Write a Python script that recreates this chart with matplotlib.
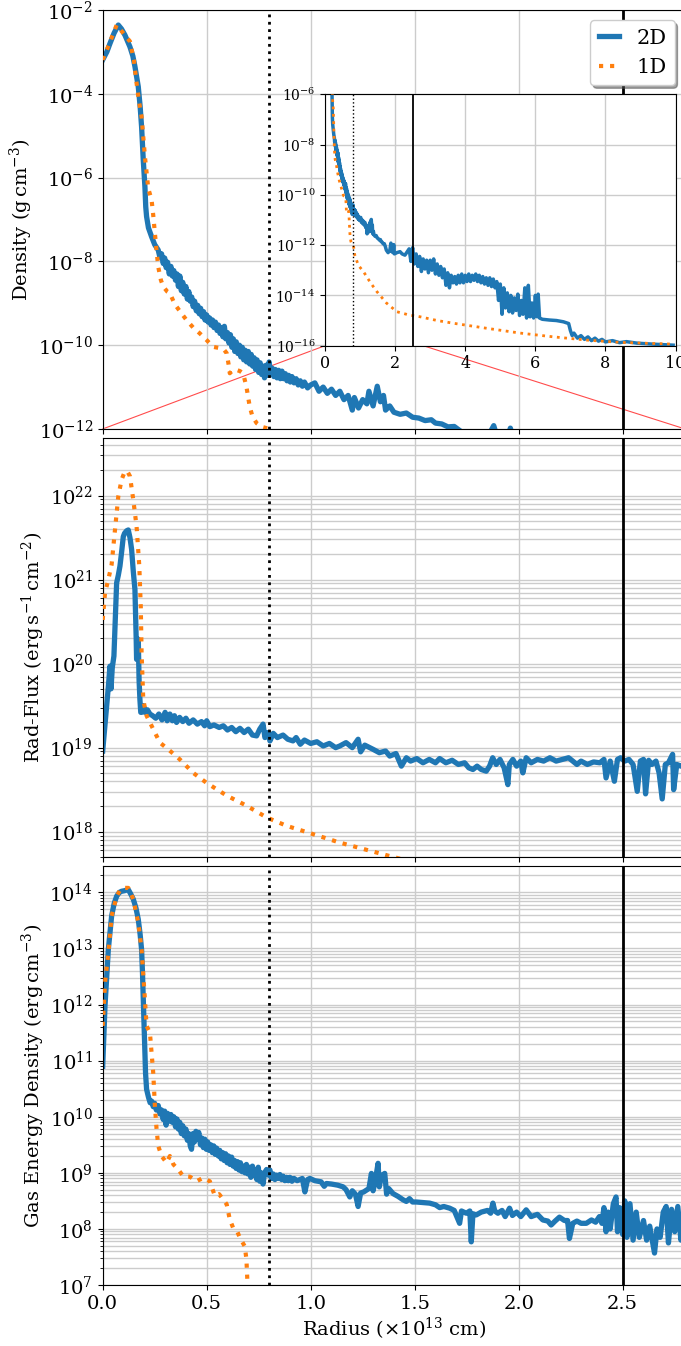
import numpy as np
import matplotlib
matplotlib.use("Agg")
import matplotlib.pyplot as plt
from matplotlib.lines import Line2D
from matplotlib.patches import ConnectionPatch
from matplotlib.ticker import LogLocator, NullLocator, FixedLocator

plt.rcParams["font.family"] = ["DejaVu Serif"]
plt.rcParams["mathtext.fontset"] = "dejavuserif"

# ---------------------------------------------------------------------------
# Radial profiles: (radius [1e13 cm], log10(value))
# ---------------------------------------------------------------------------
density_2d = [
    (0.000, -3.19), (0.020, -3.00), (0.035, -2.80), (0.055, -2.55), (0.075, -2.36),
    (0.090, -2.45), (0.107, -2.60), (0.131, -2.88), (0.145, -3.10), (0.155, -3.35),
    (0.171, -3.83), (0.180, -4.30), (0.187, -4.79), (0.195, -5.58), (0.203, -6.22),
    (0.207, -6.70), (0.211, -6.93), (0.220, -7.20), (0.235, -7.41), (0.250, -7.60),
    (0.267, -7.73), (0.275, -7.90), (0.283, -7.82), (0.291, -8.05), (0.298, -7.92),
    (0.305, -8.15), (0.312, -8.02), (0.320, -8.30), (0.328, -8.12), (0.335, -8.35),
    (0.342, -8.22), (0.350, -8.45), (0.357, -8.30), (0.364, -8.60), (0.371, -8.35),
    (0.378, -8.70), (0.385, -8.50), (0.392, -8.78), (0.400, -8.60), (0.407, -8.90),
    (0.414, -8.72), (0.421, -8.95), (0.428, -8.85), (0.435, -9.08), (0.442, -8.95),
    (0.450, -9.18), (0.457, -9.05), (0.464, -9.25), (0.471, -9.12), (0.478, -9.32),
    (0.485, -9.20), (0.492, -9.40), (0.500, -9.28), (0.507, -9.45), (0.514, -9.35),
    (0.521, -9.52), (0.528, -9.40), (0.535, -9.58), (0.542, -9.45), (0.550, -9.65),
    (0.557, -9.52), (0.564, -9.72), (0.571, -9.58), (0.578, -9.80), (0.585, -9.55),
    (0.592, -9.85), (0.600, -9.70), (0.607, -9.95), (0.614, -9.75), (0.621, -10.05),
    (0.628, -9.85), (0.635, -10.15), (0.642, -9.92), (0.650, -10.20), (0.657, -10.00),
    (0.664, -10.28), (0.671, -10.05), (0.678, -10.35), (0.685, -10.12), (0.692, -10.40),
    (0.700, -10.15), (0.707, -10.45), (0.714, -10.22), (0.721, -10.50), (0.728, -10.30),
    (0.735, -10.58), (0.742, -10.35), (0.750, -10.65), (0.757, -10.42), (0.764, -10.70),
    (0.771, -10.50), (0.778, -10.78), (0.785, -10.48), (0.792, -10.72), (0.800, -10.40),
    (0.808, -10.70), (0.815, -10.55), (0.823, -10.75), (0.830, -10.58), (0.838, -10.78),
    (0.846, -10.60), (0.854, -10.80), (0.862, -10.62), (0.870, -10.80), (0.878, -10.68),
    (0.886, -10.85), (0.894, -10.72), (0.902, -10.88), (0.910, -10.75), (0.920, -10.90),
    (0.930, -10.80), (0.940, -10.95), (0.950, -10.85), (0.960, -10.98), (0.970, -10.88),
    (0.985, -11.02), (1.000, -10.95), (1.020, -10.90), (1.040, -11.10), (1.060, -11.00),
    (1.080, -11.15), (1.100, -11.05), (1.120, -11.20), (1.140, -11.10), (1.160, -11.30),
    (1.180, -11.20), (1.200, -11.55), (1.210, -11.25), (1.230, -11.50), (1.250, -11.30),
    (1.270, -11.40), (1.280, -11.10), (1.300, -11.45), (1.320, -10.98), (1.335, -11.35),
    (1.350, -11.20), (1.360, -11.55), (1.380, -11.45), (1.400, -11.60), (1.430, -11.65),
    (1.460, -11.62), (1.490, -11.72), (1.520, -11.74), (1.550, -11.80), (1.580, -11.78),
    (1.600, -11.86), (1.630, -11.88), (1.660, -11.95), (1.690, -11.94), (1.720, -12.05),
    (1.750, -12.20), (1.800, -12.30), (1.850, -12.20), (1.880, -11.92), (1.900, -12.25),
    (1.940, -12.30), (1.960, -11.98), (1.980, -12.35), (2.050, -12.30), (2.140, -12.26),
    (2.200, -12.35), (2.280, -12.40), (2.350, -12.25),
    (2.40, -12.15), (2.45, -12.65), (2.50, -12.10), (2.55, -12.75), (2.60, -12.35),
    (2.65, -12.85), (2.70, -12.45), (2.75, -13.05), (2.80, -12.55), (2.85, -12.95),
    (2.90, -12.60), (2.95, -13.10), (3.00, -12.60), (3.05, -13.00), (3.10, -12.55),
    (3.15, -13.15), (3.20, -12.75), (3.25, -13.20), (3.30, -12.85), (3.35, -13.30),
    (3.40, -12.95), (3.45, -13.60), (3.50, -13.10), (3.55, -13.70), (3.60, -13.20),
    (3.65, -13.50), (3.70, -13.25), (3.75, -13.55), (3.80, -13.20), (3.85, -13.50),
    (3.90, -13.15), (3.95, -13.50), (4.00, -13.20), (4.05, -13.45), (4.10, -13.15),
    (4.15, -13.45), (4.20, -13.20), (4.25, -13.40), (4.30, -13.15), (4.35, -13.45),
    (4.40, -13.20), (4.45, -13.50), (4.50, -13.25), (4.55, -13.55), (4.60, -13.30),
    (4.65, -13.60), (4.70, -13.30), (4.75, -13.65), (4.80, -13.35), (4.85, -13.70),
    (4.90, -13.45), (4.95, -14.20), (5.00, -13.55), (5.05, -14.75), (5.10, -13.70),
    (5.15, -14.50), (5.20, -13.90), (5.25, -14.65), (5.30, -14.00), (5.35, -14.70),
    (5.40, -14.10), (5.45, -14.60), (5.50, -13.95), (5.55, -14.80), (5.60, -14.20),
    (5.65, -14.75), (5.70, -13.70), (5.75, -14.90), (5.80, -13.60), (5.85, -14.85),
    (5.90, -14.30), (5.95, -14.90), (6.00, -14.00), (6.05, -14.85), (6.08, -13.95),
    (6.12, -14.90), (6.20, -14.95), (6.40, -14.98), (6.60, -15.00), (6.80, -15.05),
    (6.95, -15.12), (7.00, -15.40), (7.05, -15.60), (7.10, -15.50), (7.20, -15.70),
    (7.30, -15.60), (7.40, -15.75), (7.50, -15.65), (7.60, -15.80), (7.70, -15.70),
    (7.80, -15.82), (7.90, -15.75), (8.00, -15.85), (8.20, -15.80), (8.40, -15.88),
    (8.60, -15.84), (8.90, -15.90), (9.36, -15.94), (9.93, -15.98),
]

density_1d = [
    (0.000, -3.19), (0.020, -2.95), (0.040, -2.70), (0.067, -2.36), (0.090, -2.50),
    (0.131, -2.75), (0.150, -3.20), (0.163, -3.75), (0.175, -4.20), (0.187, -4.55),
    (0.203, -5.50), (0.219, -6.26), (0.235, -6.53), (0.243, -6.90), (0.251, -7.33),
    (0.259, -7.75), (0.267, -8.13), (0.280, -8.45), (0.291, -8.60), (0.310, -8.72),
    (0.323, -8.76), (0.340, -8.95), (0.355, -9.08), (0.380, -9.25), (0.403, -9.40),
    (0.435, -9.58), (0.467, -9.72), (0.500, -9.88), (0.531, -10.04), (0.563, -10.07),
    (0.585, -10.12), (0.596, -10.19), (0.605, -10.45), (0.611, -10.67), (0.625, -10.60),
    (0.643, -10.59), (0.660, -10.62), (0.675, -10.67), (0.691, -10.99), (0.707, -11.47),
    (0.720, -11.70), (0.740, -11.86), (0.765, -11.95), (0.788, -11.98), (0.810, -12.00),
    (0.850, -12.40), (0.950, -12.80), (1.100, -13.06), (1.300, -13.50), (1.480, -13.85),
    (1.750, -14.30), (2.050, -14.65), (2.400, -14.78), (2.710, -14.85), (3.200, -15.00),
    (3.670, -15.11), (4.620, -15.31), (5.570, -15.50), (6.520, -15.65), (7.480, -15.78),
    (8.430, -15.87), (9.950, -15.94),
]

rad_flux_2d = [
    (0.000, 18.96), (0.012, 19.30), (0.019, 19.49), (0.028, 19.75), (0.035, 19.97),
    (0.040, 19.70), (0.046, 19.95), (0.054, 20.09), (0.060, 20.50), (0.067, 20.96),
    (0.075, 21.05), (0.083, 21.16), (0.092, 21.35), (0.099, 21.51), (0.105, 21.55),
    (0.115, 21.58), (0.123, 21.59), (0.131, 21.50), (0.139, 21.36), (0.147, 21.10),
    (0.155, 20.88), (0.161, 20.30), (0.163, 20.05), (0.167, 20.10), (0.171, 20.29),
    (0.175, 19.80), (0.179, 19.57), (0.183, 19.42), (0.187, 19.42), (0.195, 19.50),
    (0.203, 19.42), (0.215, 19.45), (0.227, 19.40), (0.240, 19.38), (0.255, 19.35),
    (0.270, 19.40), (0.285, 19.33), (0.300, 19.42), (0.310, 19.32), (0.323, 19.40),
    (0.335, 19.32), (0.345, 19.38), (0.355, 19.30), (0.370, 19.36), (0.385, 19.31),
    (0.400, 19.35), (0.415, 19.29), (0.435, 19.33), (0.455, 19.28), (0.475, 19.31),
    (0.490, 19.26), (0.500, 19.32), (0.515, 19.25), (0.535, 19.27), (0.560, 19.24),
    (0.580, 19.26), (0.600, 19.21), (0.620, 19.24), (0.640, 19.19), (0.660, 19.23),
    (0.680, 19.18), (0.700, 19.22), (0.720, 19.15), (0.740, 19.14), (0.755, 19.22),
    (0.771, 19.28), (0.780, 19.12), (0.795, 19.18), (0.804, 19.08), (0.820, 19.17),
    (0.840, 19.12), (0.867, 19.15), (0.890, 19.10), (0.915, 19.08), (0.930, 19.12),
    (0.950, 19.04), (0.970, 19.09), (1.000, 19.05), (1.030, 19.07), (1.060, 19.02),
    (1.090, 19.05), (1.120, 19.00), (1.140, 19.02), (1.170, 19.06), (1.200, 19.00),
    (1.228, 19.10), (1.240, 18.95), (1.260, 19.03), (1.300, 18.98), (1.330, 18.94),
    (1.360, 18.96), (1.380, 18.90), (1.410, 18.93), (1.436, 18.78), (1.460, 18.88),
    (1.480, 18.84), (1.510, 18.87), (1.540, 18.82), (1.570, 18.86), (1.600, 18.82),
    (1.620, 18.87), (1.650, 18.82), (1.680, 18.85), (1.710, 18.80), (1.740, 18.82),
    (1.760, 18.76), (1.780, 18.74), (1.800, 18.78), (1.820, 18.74), (1.844, 18.72),
    (1.860, 18.78), (1.875, 18.88), (1.892, 18.80), (1.910, 18.86), (1.930, 18.76),
    (1.948, 18.56), (1.955, 18.80), (1.972, 18.86), (1.990, 18.78), (2.010, 18.84),
    (2.020, 18.70), (2.036, 18.88), (2.060, 18.82), (2.090, 18.86), (2.120, 18.84),
    (2.150, 18.88), (2.180, 18.84), (2.210, 18.86), (2.240, 18.88), (2.260, 18.84),
    (2.280, 18.80), (2.300, 18.84), (2.330, 18.80), (2.360, 18.83), (2.390, 18.82),
    (2.410, 18.86), (2.420, 18.64), (2.440, 18.84), (2.460, 18.60), (2.475, 18.86),
    (2.490, 18.88), (2.510, 18.84), (2.530, 18.86), (2.550, 18.80), (2.570, 18.48),
    (2.585, 18.84), (2.600, 18.86), (2.610, 18.45), (2.625, 18.85), (2.640, 18.80),
    (2.660, 18.84), (2.675, 18.70), (2.690, 18.39), (2.705, 18.80), (2.720, 18.82),
    (2.740, 18.92), (2.745, 18.50), (2.760, 18.80), (2.780, 18.78), (2.800, 18.80),
]

rad_flux_1d = [
    (0.000, 20.52), (0.011, 20.84), (0.027, 21.00), (0.043, 21.18), (0.059, 21.59),
    (0.075, 21.99), (0.091, 22.19), (0.107, 22.29), (0.120, 22.28), (0.131, 22.23),
    (0.147, 21.95), (0.163, 21.63), (0.176, 21.16), (0.183, 20.68), (0.187, 20.13),
    (0.195, 19.57), (0.211, 19.38), (0.243, 19.22), (0.275, 19.06), (0.315, 18.98),
    (0.371, 18.86), (0.435, 18.70), (0.500, 18.58), (0.596, 18.43), (0.691, 18.31),
    (0.788, 18.17), (0.884, 18.07), (1.000, 17.98), (1.140, 17.87), (1.380, 17.71),
    (1.600, 17.57), (2.000, 17.38), (2.400, 17.22), (2.800, 17.08),
]

gas_energy_2d = [
    (0.000, 10.90), (0.011, 11.97), (0.027, 12.98), (0.043, 13.58), (0.055, 13.80),
    (0.067, 13.93), (0.080, 14.00), (0.091, 14.02), (0.105, 14.03), (0.123, 14.05),
    (0.135, 13.97), (0.147, 13.88), (0.160, 13.72), (0.171, 13.52), (0.180, 13.25),
    (0.187, 12.98), (0.191, 12.60), (0.195, 12.09), (0.198, 11.70), (0.200, 11.50),
    (0.206, 10.78), (0.211, 10.49), (0.220, 10.35), (0.228, 10.25), (0.235, 10.28),
    (0.243, 10.18), (0.250, 10.24), (0.258, 10.12), (0.267, 10.20), (0.275, 10.05),
    (0.283, 10.12), (0.291, 9.95), (0.298, 10.10), (0.305, 9.85), (0.312, 10.06),
    (0.320, 9.92), (0.328, 10.04), (0.335, 9.90), (0.342, 10.00), (0.350, 9.82),
    (0.357, 9.96), (0.364, 9.78), (0.371, 9.90), (0.378, 9.70), (0.385, 9.84),
    (0.392, 9.66), (0.400, 9.78), (0.407, 9.58), (0.414, 9.70), (0.421, 9.48),
    (0.427, 9.42), (0.434, 9.70), (0.441, 9.55), (0.448, 9.74), (0.455, 9.60),
    (0.462, 9.72), (0.470, 9.50), (0.477, 9.62), (0.484, 9.45), (0.491, 9.60),
    (0.498, 9.42), (0.505, 9.55), (0.512, 9.40), (0.520, 9.50), (0.527, 9.36),
    (0.534, 9.48), (0.541, 9.33), (0.548, 9.44), (0.556, 9.30), (0.563, 9.40),
    (0.570, 9.25), (0.577, 9.36), (0.584, 9.22), (0.591, 9.34), (0.598, 9.18),
    (0.605, 9.30), (0.612, 9.15), (0.620, 9.28), (0.627, 9.12), (0.634, 9.22),
    (0.641, 9.08), (0.648, 9.20), (0.655, 9.05), (0.662, 9.18), (0.670, 9.02),
    (0.677, 9.12), (0.684, 9.00), (0.691, 9.15), (0.698, 8.98), (0.705, 9.10),
    (0.712, 8.92), (0.720, 9.12), (0.727, 8.95), (0.734, 9.05), (0.741, 8.88),
    (0.748, 9.10), (0.755, 8.85), (0.762, 9.00), (0.771, 8.80), (0.778, 9.00),
    (0.788, 9.06), (0.796, 8.96), (0.804, 9.05), (0.812, 8.90), (0.820, 8.98),
    (0.828, 8.88), (0.836, 8.96), (0.844, 8.90), (0.852, 8.97), (0.860, 8.88),
    (0.868, 8.94), (0.876, 8.86), (0.884, 8.92), (0.892, 8.86), (0.900, 8.92),
    (0.910, 8.85), (0.920, 8.90), (0.935, 8.86), (0.948, 8.88), (0.960, 8.90),
    (0.972, 8.66), (0.985, 8.88), (0.996, 8.90), (1.020, 8.86), (1.050, 8.84),
    (1.065, 8.76), (1.076, 8.81), (1.100, 8.80), (1.130, 8.78), (1.156, 8.75),
    (1.170, 8.70), (1.188, 8.57), (1.200, 8.68), (1.215, 8.62), (1.228, 8.40),
    (1.240, 8.64), (1.255, 8.66), (1.268, 8.69), (1.280, 8.72), (1.292, 8.99),
    (1.300, 8.68), (1.310, 8.85), (1.324, 9.17), (1.330, 8.75), (1.340, 8.95),
    (1.356, 8.99), (1.365, 8.62), (1.375, 8.72), (1.396, 8.63), (1.420, 8.58),
    (1.444, 8.52), (1.460, 8.49), (1.475, 8.54), (1.490, 8.48), (1.508, 8.48),
    (1.540, 8.47), (1.572, 8.46), (1.600, 8.43), (1.620, 8.38), (1.640, 8.40),
    (1.668, 8.37), (1.690, 8.33), (1.716, 8.10), (1.725, 8.32), (1.748, 8.28),
    (1.765, 8.32), (1.772, 7.77), (1.780, 8.27), (1.796, 8.25), (1.820, 8.30),
    (1.850, 8.33), (1.865, 8.28), (1.876, 8.46), (1.885, 8.32), (1.900, 8.28),
    (1.920, 8.33), (1.935, 8.22), (1.956, 8.37), (1.970, 8.24), (1.990, 8.30),
    (2.010, 8.22), (2.036, 8.34), (2.060, 8.22), (2.090, 8.26), (2.116, 8.16),
    (2.140, 8.14), (2.156, 8.07), (2.175, 8.14), (2.196, 8.21), (2.220, 8.15),
    (2.235, 8.15), (2.244, 7.83), (2.260, 8.10), (2.280, 8.14), (2.300, 8.10),
    (2.325, 8.10), (2.350, 8.16), (2.370, 8.12), (2.388, 8.22), (2.400, 8.10),
    (2.410, 8.38), (2.420, 7.95), (2.430, 8.30), (2.440, 8.00), (2.455, 8.45),
    (2.468, 8.57), (2.475, 7.95), (2.485, 8.38), (2.500, 7.90), (2.510, 8.50),
    (2.520, 7.85), (2.535, 8.45), (2.550, 7.80), (2.565, 8.30), (2.580, 7.85),
    (2.600, 8.15), (2.615, 7.80), (2.630, 8.05), (2.653, 7.57), (2.665, 8.00),
    (2.680, 7.85), (2.695, 8.30), (2.709, 8.40), (2.720, 7.75), (2.735, 8.35),
    (2.750, 7.95), (2.765, 8.40), (2.780, 7.80), (2.800, 8.10),
]

gas_energy_1d = [
    (0.000, 11.62), (0.011, 12.39), (0.027, 12.92), (0.043, 13.58), (0.067, 13.93),
    (0.085, 14.05), (0.099, 14.08), (0.123, 14.08), (0.147, 13.88), (0.171, 13.46),
    (0.187, 12.98), (0.203, 12.09), (0.211, 11.62), (0.227, 11.50), (0.235, 11.14),
    (0.243, 10.78), (0.251, 10.19), (0.259, 9.78), (0.267, 9.48), (0.283, 9.30),
    (0.307, 9.18), (0.323, 9.30), (0.340, 9.15), (0.363, 9.06), (0.387, 8.94),
    (0.420, 8.93), (0.451, 8.85), (0.483, 8.91), (0.515, 8.85), (0.539, 8.59),
    (0.560, 8.62), (0.596, 8.44), (0.611, 8.17), (0.627, 8.02), (0.645, 7.97),
    (0.660, 7.84), (0.683, 7.69), (0.691, 7.46), (0.696, 7.04), (0.700, 6.50),
]

series_labels = ["2D", "1D"]
photosphere_r = 0.8      # dotted marker
outer_r = 2.5            # solid marker
x_ticks = [0.0, 0.5, 1.0, 1.5, 2.0, 2.5]


def unpack(pairs):
    r, lg = np.array(pairs).T
    return r, 10.0 ** lg


C2D, C1D = "#1f77b4", "#ff7f0e"
GRID = "#cccccc"

fig = plt.figure(figsize=(6.81, 13.46), dpi=100)
left, width = 0.1508, 0.8552
ax_rho = fig.add_axes([left, 0.6813, width, 0.3113])
ax_flux = fig.add_axes([left, 0.3633, width, 0.3111], sharex=ax_rho)
ax_gas = fig.add_axes([left, 0.0453, width, 0.3113], sharex=ax_rho)

panels = [
    (ax_rho, density_2d, density_1d),
    (ax_flux, rad_flux_2d, rad_flux_1d),
    (ax_gas, gas_energy_2d, gas_energy_1d),
]
for ax, s2d, s1d in panels:
    r, v = unpack(s2d)
    ax.plot(r, v, color=C2D, lw=3.8, solid_joinstyle="round", zorder=2)
    r, v = unpack(s1d)
    ax.plot(r, v, color=C1D, lw=3.0, ls=":", zorder=3)
    ax.axvline(photosphere_r, color="black", lw=2.0, ls=":", zorder=4)
    ax.axvline(outer_r, color="black", lw=2.0, zorder=4)
    ax.set_yscale("log")
    ax.tick_params(labelsize=14)

ax_rho.set_xlim(0.0, 2.8)
ax_rho.set_xticks(x_ticks)

ax_rho.set_ylim(1e-12, 1e-2)
ax_rho.yaxis.set_major_locator(FixedLocator([1e-12, 1e-10, 1e-8, 1e-6, 1e-4, 1e-2]))
ax_rho.yaxis.set_minor_locator(NullLocator())
ax_rho.grid(True, which="major", color=GRID, lw=1.0)

ax_flux.set_ylim(5e17, 4.8e22)
ax_gas.set_ylim(1e7, 2.95e14)
for ax in (ax_flux, ax_gas):
    ax.yaxis.set_major_locator(LogLocator(base=10, numticks=20))
    ax.yaxis.set_minor_locator(LogLocator(base=10, subs=np.arange(2, 10), numticks=200))
    ax.grid(True, which="both", color=GRID, lw=1.0)

ax_rho.tick_params(labelbottom=False)
ax_flux.tick_params(labelbottom=False)

ax_rho.set_ylabel(r"Density ($\mathrm{g\,cm^{-3}}$)", fontsize=14, labelpad=2)
ax_flux.set_ylabel(r"Rad-Flux ($\mathrm{erg\,s^{-1}\,cm^{-2}}$)", fontsize=14, labelpad=2)
ax_gas.set_ylabel(r"Gas Energy Density ($\mathrm{erg\,cm^{-3}}$)", fontsize=14, labelpad=2)
ax_gas.set_xlabel(r"Radius ($\times10^{13}$ cm)", fontsize=14, labelpad=2)

handles = [
    Line2D([], [], color=C2D, lw=3.8),
    Line2D([], [], color=C1D, lw=3.0, ls=":"),
]
ax_rho.legend(handles, series_labels, loc="upper right", fontsize=15,
              handlelength=1.0, shadow=True, fancybox=True, framealpha=1.0)

# Zoomed-out view of the density profile
axins = ax_rho.inset_axes([0.3817, 0.1988, 0.602, 0.600])
r, v = unpack(density_2d)
axins.plot(r, v, color=C2D, lw=2.5, zorder=2)
r, v = unpack(density_1d)
axins.plot(r, v, color=C1D, lw=2.0, ls=":", zorder=3)
axins.axvline(photosphere_r, color="black", lw=1.0, ls=":", zorder=4)
axins.axvline(outer_r, color="black", lw=1.3, zorder=4)
axins.set_yscale("log")
axins.set_xlim(0, 10)
axins.set_ylim(1e-16, 1e-6)
axins.set_xticks([0, 2, 4, 6, 8, 10])
axins.yaxis.set_major_locator(FixedLocator([1e-16, 1e-14, 1e-12, 1e-10, 1e-8, 1e-6]))
axins.yaxis.set_minor_locator(NullLocator())
axins.tick_params(axis="x", labelsize=11.5)
axins.tick_params(axis="y", labelsize=10)
axins.grid(True, which="major", color=GRID, lw=1.0)

x_lo, x_hi = ax_rho.get_xlim()
for xc in (x_lo, x_hi):
    con = ConnectionPatch(xyA=(xc, 1e-16), coordsA=axins.transData,
                          xyB=(xc, 1e-12), coordsB=ax_rho.transData,
                          color="red", lw=0.8, alpha=0.7, zorder=1)
    ax_rho.add_artist(con)

fig.savefig("out.png", dpi=100)
